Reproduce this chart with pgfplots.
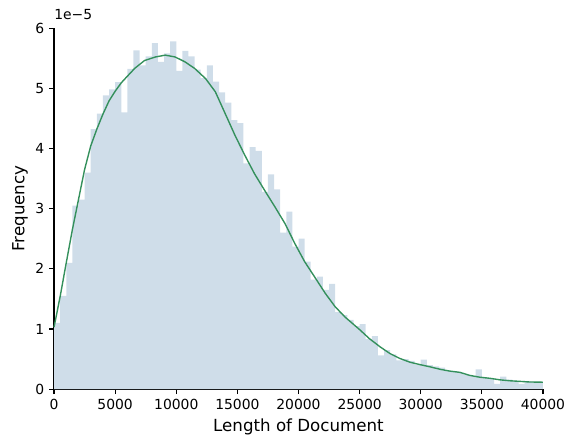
\documentclass[border=0pt]{standalone}
\usepackage{fontspec}
\setmainfont{DejaVu Sans}
\usepackage{pgfplots}
\pgfplotsset{compat=1.18}

\definecolor{histfill}{RGB}{207,221,233}
\definecolor{kdeline}{RGB}{52,144,92}

\begin{document}
\begin{tikzpicture}
\begin{axis}[
    scale only axis,
    width=352pt, height=260pt,
    xmin=0, xmax=40000,
    ymin=0, ymax=6,
    axis x line*=bottom,
    axis y line*=left,
    axis line style={-, line width=0.8pt},
    tick align=outside,
    major tick length=3.5pt,
    tick style={line width=0.8pt, black},
    xtick={0,5000,...,40000},
    ytick={0,1,...,6},
    scaled x ticks=false,
    /pgf/number format/1000 sep={},
    /pgf/number format/assume math mode=true,
    tick label style={font=\fontsize{10}{12}\selectfont},
    xlabel={Length of Document},
    ylabel={Frequency},
    label style={font=\fontsize{12}{14}\selectfont},
    xlabel style={at={(axis description cs:0.5,-0.0804)}, anchor=north, inner sep=0pt},
    ylabel style={at={(axis description cs:-0.053,0.5)}, anchor=south, inner sep=0pt},
    clip=false,
]
% histogram, bin width 500, heights in units of 1e-5
\addplot[const plot, fill=histfill, draw=none] coordinates {
  (0,1.10) (500,1.55) (1000,2.10) (1500,3.05) (2000,3.15) (2500,3.60)
  (3000,4.32) (3500,4.58) (4000,4.88) (4500,4.98) (5000,5.10) (5500,4.60)
  (6000,5.32) (6500,5.63) (7000,5.38) (7500,5.53) (8000,5.75) (8500,5.44)
  (9000,5.58) (9500,5.78) (10000,5.29) (10500,5.62) (11000,5.53) (11500,5.31)
  (12000,5.17) (12500,5.38) (13000,5.11) (13500,4.93) (14000,4.76) (14500,4.47)
  (15000,4.42) (15500,3.75) (16000,4.02) (16500,3.96) (17000,3.28) (17500,3.57)
  (18000,3.32) (18500,2.60) (19000,2.95) (19500,2.37) (20000,2.50) (20500,2.12)
  (21000,1.82) (21500,1.87) (22000,1.65) (22500,1.75) (23000,1.28) (23500,1.23)
  (24000,1.15) (24500,1.05) (25000,1.08) (25500,0.83) (26000,0.88) (26500,0.56)
  (27000,0.65) (27500,0.58) (28000,0.48) (28500,0.50) (29000,0.47) (29500,0.41)
  (30000,0.49) (30500,0.40) (31000,0.38) (31500,0.36) (32000,0.30) (32500,0.30)
  (33000,0.27) (33500,0.24) (34000,0.22) (34500,0.33) (35000,0.19) (35500,0.17)
  (36000,0.09) (36500,0.21) (37000,0.16) (37500,0.14) (38000,0.09) (38500,0.13)
  (39000,0.12) (39500,0.12) (40000,0.12)
} \closedcycle;
% density curve
\addplot[kdeline, line width=1.0pt] coordinates {
  (0,1.03) (500,1.54) (1000,2.10) (1500,2.65) (2000,3.15) (2500,3.65)
  (3000,4.04) (3500,4.32) (4000,4.57) (4500,4.79) (5000,4.95) (5500,5.09)
  (6000,5.20) (6600,5.33) (7400,5.46) (8300,5.52) (9100,5.55) (9900,5.52)
  (10700,5.44) (11500,5.33) (12400,5.16) (13200,4.94) (14000,4.58) (14800,4.22)
  (15600,3.89) (16400,3.58) (17300,3.28) (18100,3.02) (18900,2.75) (19700,2.42)
  (20500,2.12) (21400,1.84) (22200,1.59) (23000,1.37) (23800,1.20) (24600,1.06)
  (25000,0.99) (25800,0.84) (26700,0.70) (27500,0.59) (28300,0.51) (29100,0.45)
  (29900,0.41) (30800,0.37) (31600,0.33) (32400,0.30) (33200,0.28) (34000,0.23)
  (34800,0.20) (35700,0.18) (36500,0.155) (37300,0.14) (38100,0.13) (38900,0.12)
  (40000,0.116)
};
\node[anchor=south west, inner sep=0pt, yshift=5.8pt, font=\fontsize{10}{12}\selectfont]
  at (rel axis cs:0,1) {1e−5};
\end{axis}
\path ([shift={(-38.9pt,-34.6pt)}]current axis.south west)
  rectangle ([shift={(20.9pt,20.2pt)}]current axis.north east);
\end{tikzpicture}
\end{document}
